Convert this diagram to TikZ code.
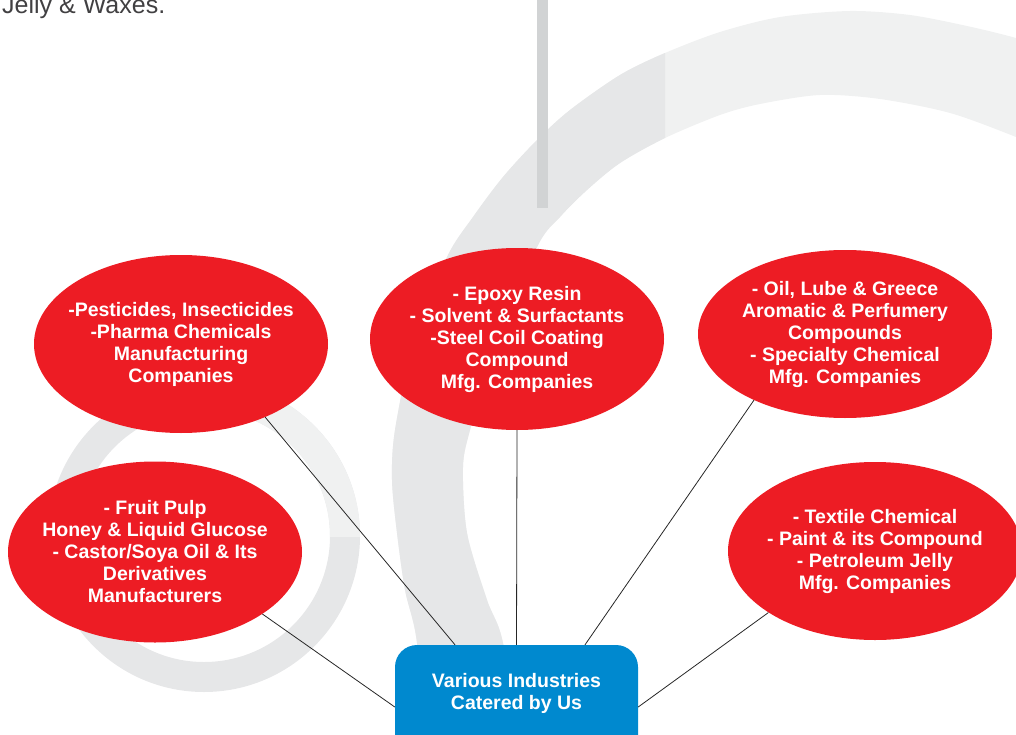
\documentclass[tikz,border=0pt]{standalone}
\usepackage{fontspec}
\setmainfont{Liberation Sans}
\usetikzlibrary{shapes}
\definecolor{ringdark}{RGB}{230,231,232}
\definecolor{ringlight}{RGB}{240,241,241}
\definecolor{bargray}{RGB}{209,211,212}
\definecolor{indred}{RGB}{237,28,36}
\definecolor{hubblue}{RGB}{0,137,207}
\definecolor{notegray}{RGB}{65,64,66}
\newcommand{\ringpath}{plot[smooth] coordinates {(425,760) (417,643) (405,590) (397,533) (392,480) (395,430) (414,340) (447,257) (473,217) (503,177) (537,140) (570,110) (620,75) (665,53) (720,32) (780,17) (850,11) (910,15) (967,26) (1016,38) (1075,56)} -- plot[smooth] coordinates {(1075,162) (1016,137) (950,113) (880,99) (820,95) (760,104) (720,115) (665,138) (620,163) (587,190) (560,217) (537,247) (492,355) (470,430) (463,467) (467,533) (487,600) (503,643) (520,760)} -- cycle}

\begin{document}
\begin{tikzpicture}[x=1pt,y=-1pt,
industry/.style={
ellipse,
fill=indred,
text=white,
inner xsep=-25pt,
inner ysep=0pt,
minimum width=294,
minimum height=180,
align=center,
font=\bfseries\fontsize{19.5}{22}\selectfont
},
hub/.style={
rectangle,
rounded corners=22,
fill=hubblue,
inner sep=0pt,
minimum width=243,
minimum height=124
},
hubtext/.style={
anchor=center,
yshift=-49,
text=white,
align=center,
font=\bfseries\fontsize{19.5}{22}\selectfont
},
link/.style={draw=black!85,line width=0.8pt},
]
\useasboundingbox (0,0) rectangle (1016,735);
\clip (0,0) rectangle (1016,735);

\fill[ringlight] \ringpath;
\begin{scope}
\clip (300,-10) rectangle (665,780);
\fill[ringdark] \ringpath;
\end{scope}
\fill[ringdark, even odd rule] (204,536) circle[radius=156] (204,536) circle[radius=126];
\begin{scope}
\clip (204,536) rectangle (370,370);
\fill[ringlight, even odd rule] (204,536) circle[radius=156] (204,536) circle[radius=126];
\end{scope}
\fill[bargray] (537,-2) rectangle (548,208);

\node (note) [anchor=base west, inner sep=0pt, text=notegray, font=\fontsize{25}{30}\selectfont] at (2,14) {Jelly \& Waxes.};

\node (pest) [industry, minimum height=178] at (181,344) {-Pesticides, Insecticides\\-Pharma Chemicals\\Manufacturing\\Companies};
\node (epoxy) [industry, minimum height=182] at (517,339) {- Epoxy Resin\\- Solvent \& Surfactants\\-Steel Coil Coating\\Compound\\Mfg. Companies};
\node (oil) [industry, minimum height=168] at (845,334) {- Oil, Lube \& Greece\\Aromatic \& Perfumery\\Compounds\\- Specialty Chemical\\Mfg. Companies};
\node (fruit) [industry, minimum height=181] at (155,552) {- Fruit Pulp\\Honey \& Liquid Glucose\\- Castor/Soya Oil \& Its\\Derivatives\\Manufacturers};
\node (textile) [industry, minimum height=178] at (875,551) {- Textile Chemical\\- Paint \& its Compound\\- Petroleum Jelly\\Mfg. Companies};
\node (hub) [hub, label={[hubtext]north:Various Industries\\Catered by Us}] at (516.5,707) {};

\draw[link] (pest.-41) -- ([xshift=-61.5]hub.north);
\draw[link] (epoxy.south) -- (hub.north);
\draw[link] (oil.216) -- ([xshift=68.5]hub.north);
\draw[link] (fruit.-30) -- (hub.west);
\draw[link] (textile.210) -- (hub.east);
\end{tikzpicture}
\end{document}
